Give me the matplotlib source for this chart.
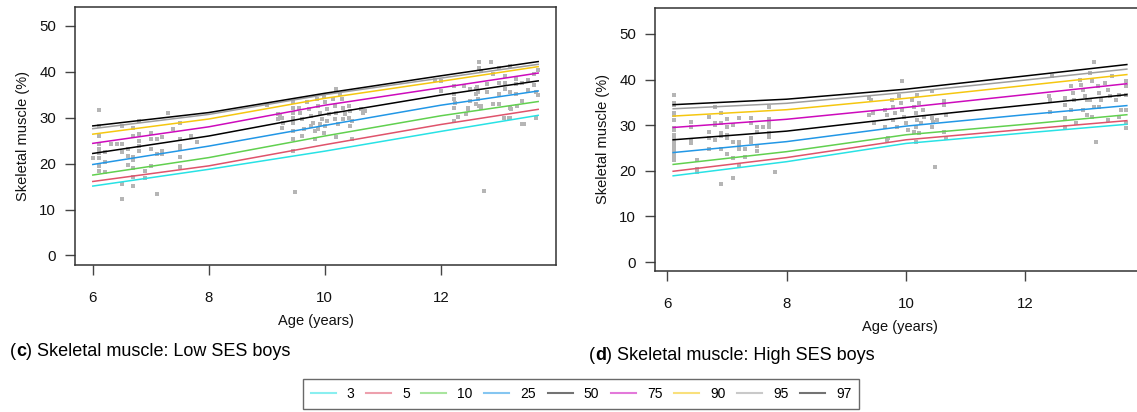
"""Skeletal muscle centile curves, low vs high SES boys."""

import matplotlib
matplotlib.use('Agg')
import matplotlib.pyplot as plt
from matplotlib.lines import Line2D
from matplotlib.offsetbox import TextArea, HPacker, AnnotationBbox

plt.rcParams['font.family'] = ['Liberation Sans', 'DejaVu Sans']

CENTILES = ['3', '5', '10', '25', '50', '75', '90', '95', '97']
COLORS = ['#28E2E5', '#DF536B', '#61D04F', '#2297E6', '#000000',
          '#CD0BBC', '#F5C710', '#9E9E9E', '#000000']

# ------------------------------------------------------------------
# (c) low SES boys
# ------------------------------------------------------------------
low_age = [6.0, 8.0, 10.0, 12.0, 13.68]
low_curves = [
    [15.1, 18.75, 22.7, 27.0, 30.5],   # 3
    [16.1, 19.5, 24.1, 28.5, 31.8],    # 5
    [17.5, 21.3, 26.0, 30.4, 33.5],    # 10
    [19.8, 23.8, 28.3, 32.7, 35.8],    # 25
    [22.2, 26.0, 30.7, 34.9, 38.0],    # 50
    [24.4, 28.0, 32.7, 36.5, 39.7],    # 75
    [26.4, 29.7, 34.2, 37.9, 41.1],    # 90
    [27.6, 30.7, 35.0, 38.6, 41.6],    # 95
    [28.2, 31.1, 35.3, 39.1, 42.2],    # 97
]
low_pt_age = [
    6.11, 6.11, 6.11, 6.11, 6.11, 6.11, 6.11, 6.11, 6.11, 6.01,
    6.21, 6.21, 6.21, 6.32, 6.41, 6.51, 6.51, 6.51, 6.51, 6.51,
    6.60, 6.60, 6.60, 6.70, 6.70, 6.70, 6.70, 6.70, 6.70, 6.70,
    6.80, 6.80, 6.80, 6.80, 6.80, 6.90, 6.90, 7.00, 7.00, 7.00,
    7.00, 7.10, 7.10, 7.10, 7.20, 7.20, 7.20, 7.30, 7.39, 7.50,
    7.50, 7.50, 7.50, 7.50, 7.50, 7.70, 7.80, 9.00,
    9.20, 9.23, 9.26, 9.20, 9.28, 9.26,
    9.45, 9.45, 9.45, 9.45, 9.45, 9.45, 9.45, 9.45, 9.49,
    9.55, 9.58, 9.61, 9.64, 9.61,
    9.70, 9.73, 9.77, 9.80, 9.77, 9.83,
    9.86, 9.89, 9.92, 9.95, 9.92, 9.89, 9.83,
    9.98, 10.01, 10.04, 10.07, 10.04, 10.01, 9.98,
    10.14, 10.17, 10.20, 10.17, 10.23, 10.20, 10.26, 10.29,
    10.32, 10.35, 10.32, 10.41, 10.44, 10.41, 10.44, 10.20,
    10.47, 10.47, 10.63, 10.66, 10.69,
    11.90, 12.00, 12.00, 12.23, 12.23, 12.23, 12.23, 12.23, 12.25, 12.30,
    12.40, 12.44, 12.47, 12.47, 12.50, 12.50,
    12.60, 12.60, 12.60, 12.62, 12.64, 12.64, 12.66, 12.66, 12.66,
    12.70, 12.70, 12.70, 12.75, 12.80, 12.80, 12.87, 12.90, 12.90,
    13.00, 13.00, 13.00, 13.00, 13.09, 13.10, 13.10, 13.10, 13.18,
    13.20, 13.20, 13.20, 13.20, 13.21, 13.30, 13.30, 13.30, 13.32,
    13.40, 13.40, 13.40, 13.43, 13.50, 13.50, 13.60, 13.60,
    13.64, 13.64, 13.68, 13.68,
]
low_pt_val = [
    31.7, 28.2, 26.0, 24.2, 23.1, 22.4, 21.2, 19.5, 18.4, 21.3,
    20.3, 18.2, 22.5, 24.2, 24.2, 28.1, 24.2, 22.5, 15.5, 12.2,
    23.1, 21.6, 19.6, 27.8, 25.9, 21.5, 20.7, 19.1, 17.1, 15.1,
    29.3, 26.4, 24.9, 23.8, 22.7, 18.4, 16.9, 26.7, 25.4, 23.1,
    19.5, 25.3, 22.0, 13.3, 25.7, 22.7, 22.0, 31.0, 27.6, 28.9,
    25.3, 23.8, 23.1, 21.5, 19.2, 25.9, 24.7, 32.7,
    30.7, 30.4, 30.0, 29.7, 28.9, 27.8,
    33.3, 32.2, 31.1, 30.0, 28.9, 27.1, 25.3, 22.7, 13.8,
    32.2, 31.1, 29.7, 27.5, 26.0,
    33.3, 31.8, 30.4, 28.9, 28.2, 27.1,
    34.0, 32.6, 31.1, 29.7, 28.6, 27.5, 25.3,
    34.4, 33.3, 31.8, 30.7, 29.3, 28.2, 26.7,
    34.0, 32.6, 31.1, 29.7, 28.6, 36.2, 35.1, 34.0,
    32.2, 30.7, 29.7, 32.6, 31.5, 30.0, 28.2, 25.7,
    29.3, 25.3, 31.8, 31.1, 31.5,
    38.2, 38.0, 35.8, 36.8, 35.1, 34.0, 32.2, 29.3, 33.1, 30.2,
    36.9, 30.7, 31.8, 32.0, 36.2, 33.6,
    35.1, 36.3, 32.9, 36.6, 35.5, 34.0, 32.6, 42.0, 40.9,
    32.0, 32.6, 40.2, 14.0, 35.5, 37.3, 42.2, 32.9, 39.5,
    35.1, 37.6, 32.9, 40.8, 30.0, 37.6, 36.2, 39.0, 30.0,
    35.5, 32.2, 30.0, 41.2, 31.8, 38.4, 37.3, 35.1, 32.6,
    33.6, 28.6, 37.5, 28.6, 38.2, 36.0, 37.0, 39.5,
    35.5, 30.0, 40.3, 35.0,
]

# ------------------------------------------------------------------
# (d) high SES boys
# ------------------------------------------------------------------
high_age = [6.1, 8.0, 10.0, 12.0, 13.7]
high_curves = [
    [18.9, 22.0, 26.0, 28.3, 30.2],    # 3
    [19.9, 22.9, 26.8, 29.1, 31.0],    # 5
    [21.4, 24.2, 27.9, 30.2, 32.3],    # 10
    [24.0, 26.4, 29.8, 32.3, 34.3],    # 25
    [26.8, 28.7, 31.7, 34.4, 36.7],    # 50
    [29.5, 31.3, 33.9, 36.7, 39.1],    # 75
    [32.0, 33.4, 35.9, 38.7, 41.1],    # 90
    [33.6, 34.8, 37.2, 39.9, 42.3],    # 95
    [34.5, 35.7, 37.9, 40.8, 43.3],    # 97
]
high_pt_age = [
    6.11, 6.11, 6.11, 6.11, 6.11, 6.11, 6.11, 6.11, 6.11, 6.11,
    6.11, 6.11, 6.11, 6.11, 6.11, 6.11, 6.11,
    6.40, 6.40, 6.40, 6.40, 6.50, 6.50, 6.50,
    6.70, 6.70, 6.70, 6.70, 6.80, 6.80, 6.80, 6.80,
    6.90, 6.90, 6.90, 6.90, 6.90, 6.90,
    7.00, 7.00, 7.00, 7.00, 7.00, 7.10, 7.10, 7.10, 7.10,
    7.20, 7.20, 7.20, 7.20, 7.20, 7.30, 7.30,
    7.40, 7.40, 7.40, 7.40, 7.50, 7.50, 7.50, 7.50, 7.60,
    7.70, 7.70, 7.70, 7.70, 7.70, 7.70, 7.80,
    9.94, 9.38, 9.41, 9.44, 9.38, 9.47,
    9.65, 9.68, 9.65, 9.70, 9.69,
    9.76, 9.79, 9.82, 9.79, 9.85,
    9.88, 9.91, 9.94, 9.97, 10.00, 10.03,
    10.10, 10.13, 10.16, 10.19, 10.16, 10.13, 10.19, 10.22,
    10.28, 10.31, 10.25, 10.22, 10.16, 10.43,
    10.43, 10.46, 10.52, 10.49,
    10.64, 10.64, 10.67, 10.64, 10.67, 10.43,
    12.45, 12.40, 12.42, 12.42,
    12.67, 12.67, 12.67, 12.67,
    12.76, 12.79, 12.82, 12.76, 12.85,
    12.91, 12.94, 12.97, 13.00, 13.03, 12.97, 13.03,
    13.09, 13.12, 13.09, 13.15, 13.12, 13.18, 13.15,
    13.21, 13.24, 13.27, 13.24,
    13.33, 13.39, 13.42, 13.39, 13.45,
    13.51, 13.57, 13.60, 13.57,
    13.68, 13.68, 13.68, 13.68, 13.68, 13.68,
]
high_pt_val = [
    36.6, 34.8, 34.4, 32.6, 32.2, 31.1, 29.3, 28.9, 27.9, 27.1,
    26.4, 25.7, 24.9, 24.2, 23.5, 22.7, 22.4,
    30.8, 29.7, 26.8, 26.2, 22.4, 20.5, 19.8,
    31.7, 28.6, 27.1, 24.7, 33.9, 30.5, 30.0, 26.8,
    32.6, 30.5, 28.2, 27.6, 24.7, 17.1,
    31.3, 29.7, 27.9, 27.1, 23.7, 30.0, 26.4, 22.7, 18.4,
    31.5, 26.4, 25.7, 24.7, 21.3, 24.7, 23.1,
    31.5, 30.5, 27.1, 26.4, 29.5, 28.6, 25.4, 24.3, 29.7,
    34.1, 31.3, 30.4, 29.5, 28.2, 27.5, 19.8,
    39.6, 35.9, 35.6, 32.6, 32.3, 30.4,
    33.4, 32.3, 29.7, 27.1, 26.8,
    35.6, 34.1, 32.6, 31.2, 29.7,
    36.3, 34.8, 33.4, 31.9, 30.4, 29.0,
    35.6, 34.1, 32.6, 31.2, 29.7, 28.6, 36.7, 34.8,
    33.4, 31.9, 30.4, 28.2, 26.4, 37.4,
    31.5, 30.8, 31.2, 20.9,
    35.2, 34.5, 32.3, 28.6, 27.1, 29.7,
    40.8, 36.3, 35.6, 33.0,
    35.9, 34.5, 31.5, 29.7,
    38.5, 37.0, 35.6, 33.4, 30.4,
    40.0, 38.9, 37.8, 36.3, 35.6, 33.4, 32.3,
    41.4, 39.6, 35.6, 34.1, 31.9, 26.4, 43.8,
    38.5, 37.0, 35.6, 34.1,
    39.2, 37.8, 36.3, 31.2, 40.7,
    35.6, 36.7, 33.4, 31.9,
    39.6, 38.5, 36.7, 33.4, 30.4, 29.3,
]


def centile_panel(ax, pt_age, pt_val, age, curves, xlim, ylim):
    ax.plot(pt_age, pt_val, 's', color='#B5B5B5', markersize=3.3,
            markeredgewidth=0, zorder=1)
    for vals, col in zip(curves, COLORS):
        ax.plot(age, vals, color=col, linewidth=1.1, zorder=2)

    ax.set_xlim(*xlim)
    ax.set_ylim(*ylim)
    ax.set_xticks([6, 8, 10, 12])
    ax.set_yticks([0, 10, 20, 30, 40, 50])
    ax.tick_params(direction='out', length=7.5, width=1.0, color='#444444',
                   labelsize=10.8, labelcolor='#111111')
    ax.tick_params(axis='x', pad=11)
    ax.tick_params(axis='y', pad=6)
    for s in ax.spines.values():
        s.set_color('#333333')
        s.set_linewidth(1.1)
    ax.set_xlabel('Age (years)', fontsize=10.5, labelpad=7, color='#111111')
    ax.set_ylabel('Skeletal muscle (%)', fontsize=10.5, labelpad=7,
                  color='#111111')


def caption(fig, letter, text, x, y):
    size = 13
    parts = [
        TextArea('(', textprops=dict(size=size, color='black')),
        TextArea(letter, textprops=dict(size=size, color='black',
                                        weight='bold')),
        TextArea(') ' + text, textprops=dict(size=size, color='black')),
    ]
    box = HPacker(children=parts, sep=0, pad=0, align='baseline')
    ab = AnnotationBbox(box, (x, y), xycoords='figure fraction',
                        box_alignment=(0, 0.5), frameon=False, pad=0)
    fig.add_artist(ab)


def main():
    W, H = 1137, 412
    fig = plt.figure(figsize=(W / 100, H / 100), dpi=100)

    ax1 = fig.add_axes([75 / W, 1 - 265 / H, 481 / W, 258 / H])
    centile_panel(ax1, low_pt_age, low_pt_val, low_age, low_curves,
                  (5.693, 13.987), (-2.08, 54.08))

    # right panel runs past the figure edge, as in the source image
    ax2 = fig.add_axes([655 / W, 1 - 271 / H, 490 / W, 263 / H])
    centile_panel(ax2, high_pt_age, high_pt_val, high_age, high_curves,
                  (5.796, 14.004), (-1.97, 55.7))

    caption(fig, 'c', 'Skeletal muscle: Low SES boys', 10 / W, 1 - 352 / H)
    caption(fig, 'd', 'Skeletal muscle: High SES boys', 589 / W, 1 - 356 / H)

    handles = [Line2D([], [], color=c, linewidth=1.5, alpha=0.55)
               for c in COLORS]
    leg = fig.legend(handles, CENTILES, loc='center',
                     bbox_to_anchor=(581 / W, 1 - 394 / H), ncol=9,
                     fontsize=10, frameon=True, fancybox=False,
                     handlelength=1.8, handletextpad=0.8, columnspacing=0.83,
                     borderpad=0.55, borderaxespad=0)
    leg.get_frame().set_edgecolor('#444444')
    leg.get_frame().set_linewidth(1.0)

    fig.savefig('out.png', dpi=100)
    plt.close(fig)


if __name__ == '__main__':
    main()
